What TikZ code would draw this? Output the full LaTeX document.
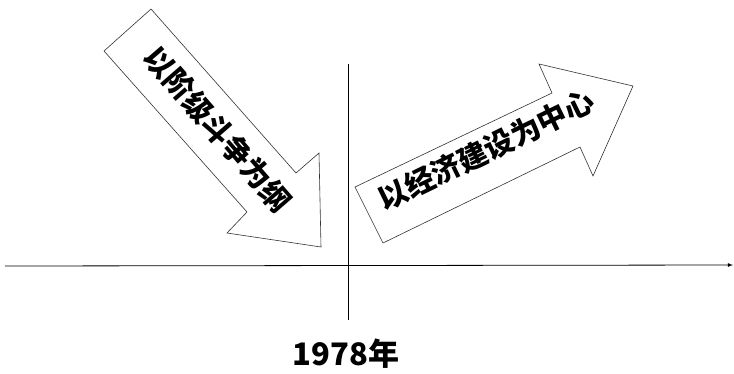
\documentclass[tikz,border=0pt]{standalone}
\usepackage{fontspec}
\newfontfamily\cjk{Noto Sans CJK SC}
\tikzset{
  bigarrow/.style={draw=black!80, fill=white, line width=0.6pt, line join=miter},
  arrowtext/.style={font=\cjk\bfseries\fontsize{29.5}{30}\selectfont, inner sep=0pt},
  axis/.style={line width=0.8pt}
}
\begin{document}
\begin{tikzpicture}[x=1pt,y=-1pt]
\useasboundingbox (0,0) rectangle (734,373);
% time axis
\coordinate (axisL) at (5,266);
\coordinate (axisR) at (733,265);
\draw[axis,-latex] (axisL) -- (axisR);
\coordinate (lineT) at (348,64);
\coordinate (lineB) at (348,320);
\draw[axis] (lineT) -- (lineB);
\node[font=\cjk\bfseries\fontsize{31}{31}\selectfont] (year) at (346,354) {1978年};
% arrow down
\draw[bigarrow] (151,9) -- (296,173) -- (319,153) -- (321,247) -- (227,233) -- (247,212) -- (104,51) -- cycle;
\node[arrowtext, rotate=-49] (before) at (218,129) {以阶级斗争为纲};
% arrow up
\draw[bigarrow] (383,243) -- (355,187) -- (552,93) -- (539,64) -- (633,86) -- (593,176) -- (580,147) -- cycle;
\node[arrowtext, rotate=26] (after) at (486,150) {以经济建设为中心};
\end{tikzpicture}
\end{document}
